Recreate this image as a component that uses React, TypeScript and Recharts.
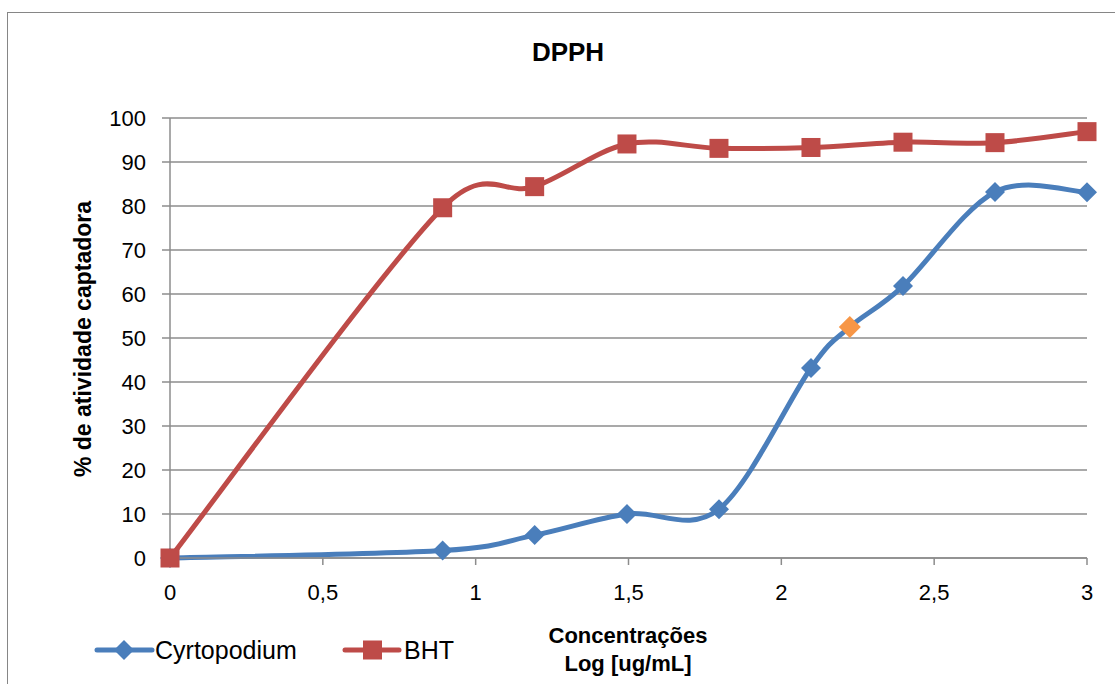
import React from 'react';
import { LineChart, Line, XAxis, YAxis, CartesianGrid } from 'recharts';

// ---- data ----
const logConc = [0, 0.892, 1.193, 1.495, 1.796, 2.097, 2.398, 2.699, 3];
const cyrtopodium = [0, 1.7, 5.2, 10.0, 11.1, 43.2, 61.8, 83.2, 83.1];
const bht = [0, 79.6, 84.4, 94.1, 93.1, 93.3, 94.5, 94.4, 96.9];
const ic50Point = { x: 2.224, y: 52.5 };
const xTicks = [0, 0.5, 1, 1.5, 2, 2.5, 3];
const yTicks = [0, 10, 20, 30, 40, 50, 60, 70, 80, 90, 100];
const seriesNames = ['Cyrtopodium', 'BHT'];
const chartTitle = 'DPPH';
const xTitle = ['Concentrações', 'Log [ug/mL]'];
const yTitle = '% de atividade captadora';

const cyrData = [
  ...logConc.map((x, i) => ({ x, y: cyrtopodium[i], ic50: false })),
  { x: ic50Point.x, y: ic50Point.y, ic50: true },
].sort((a, b) => a.x - b.x);
const bhtData = logConc.map((x, i) => ({ x, y: bht[i] }));

const BLUE = '#4A7EBB';
const RED = '#BE4B48';
const ORANGE = '#F79646';
const GRID = '#8C8C8C';
const FONT = '"Liberation Sans", Arial, sans-serif';

// Excel-like smoothed line (Catmull-Rom through points, with arm length limited)
const smoothCurve: any = (context: any) => {
  let xs: number[] = [];
  let ys: number[] = [];
  const arm = (ax: number, ay: number, segLen: number) => {
    let vx = ax / 6;
    let vy = ay / 6;
    const len = Math.hypot(vx, vy);
    const maxLen = segLen * 0.67;
    if (len > maxLen && len > 0) {
      vx *= maxLen / len;
      vy *= maxLen / len;
    }
    return [vx, vy];
  };
  return {
    areaStart() {},
    areaEnd() {},
    lineStart() {
      xs = [];
      ys = [];
    },
    point(x: number, y: number) {
      xs.push(+x);
      ys.push(+y);
    },
    lineEnd() {
      const n = xs.length;
      if (!n) return;
      context.moveTo(xs[0], ys[0]);
      for (let i = 0; i < n - 1; i++) {
        const i0 = Math.max(i - 1, 0);
        const i3 = Math.min(i + 2, n - 1);
        const seg = Math.hypot(xs[i + 1] - xs[i], ys[i + 1] - ys[i]);
        const a1 = arm(xs[i + 1] - xs[i0], ys[i + 1] - ys[i0], seg);
        const a2 = arm(xs[i3] - xs[i], ys[i3] - ys[i], seg);
        context.bezierCurveTo(
          xs[i] + a1[0],
          ys[i] + a1[1],
          xs[i + 1] - a2[0],
          ys[i + 1] - a2[1],
          xs[i + 1],
          ys[i + 1]
        );
      }
    },
  };
};

const diamondPath = (cx: number, cy: number, r: number) =>
  `M${cx},${cy - r}L${cx + r},${cy}L${cx},${cy + r}L${cx - r},${cy}Z`;

const DiamondDot = (props: any) => {
  const { cx, cy, payload, index } = props;
  if (cx == null || cy == null) return <g key={`d${index}`} />;
  const isIc = payload && payload.ic50;
  return (
    <path
      key={`d${index}`}
      d={diamondPath(cx, cy, isIc ? 11 : 10)}
      fill={isIc ? ORANGE : BLUE}
    />
  );
};

const SquareDot = (props: any) => {
  const { cx, cy, index } = props;
  if (cx == null || cy == null) return <g key={`s${index}`} />;
  return <rect key={`s${index}`} x={cx - 9.5} y={cy - 9.5} width={19} height={19} fill={RED} />;
};

const fmt = (v: number) => String(v).replace('.', ',');

export default function App() {
  return (
    <div style={{ position: 'absolute', left: 0, top: 0, width: 1115, height: 684, overflow: 'hidden', background: '#fff' }}>
      <div
        style={{
          position: 'absolute',
          left: 7,
          top: 12,
          width: 1108,
          height: 672,
          borderLeft: '1px solid #868686',
          borderTop: '1px solid #868686',
          boxSizing: 'border-box',
        }}
      />
      <div style={{ position: 'absolute', left: 0, top: 0 }}>
        <LineChart
          width={1115}
          height={684}
          margin={{ top: 118, right: 28, left: 110, bottom: 86 }}
          style={{ fontFamily: FONT }}
        >
          <CartesianGrid horizontal vertical={false} stroke={GRID} strokeWidth={1.5} />
          <XAxis
            type="number"
            dataKey="x"
            domain={[0, 3]}
            ticks={xTicks}
            tickFormatter={fmt}
            height={40}
            tickSize={7}
            tickMargin={19}
            axisLine={{ stroke: GRID, strokeWidth: 1.5 }}
            tickLine={{ stroke: GRID, strokeWidth: 1.5 }}
            tick={{ fill: '#000', fontSize: 22, fontFamily: FONT }}
            label={{
              content: () => (
                <g>
                  <text x={628} y={635} textAnchor="middle" dominantBaseline="central" fontWeight="bold" fontSize={22} fill="#000" fontFamily={FONT}>
                    {xTitle[0]}
                  </text>
                  <text x={628} y={663} textAnchor="middle" dominantBaseline="central" fontWeight="bold" fontSize={22} fill="#000" fontFamily={FONT}>
                    {xTitle[1]}
                  </text>
                </g>
              ),
            }}
          />
          <YAxis
            type="number"
            domain={[0, 100]}
            ticks={yTicks}
            width={60}
            tickSize={8}
            tickMargin={16}
            axisLine={{ stroke: GRID, strokeWidth: 1.5 }}
            tickLine={{ stroke: GRID, strokeWidth: 1.5 }}
            tick={{ fill: '#000', fontSize: 22, fontFamily: FONT }}
            label={{
              content: () => (
                <text
                  x={83}
                  y={339}
                  transform="rotate(-90 83 339)"
                  textAnchor="middle"
                  dominantBaseline="central"
                  fontWeight="bold"
                  fontSize={23}
                  fill="#000"
                  fontFamily={FONT}
                >
                  {yTitle}
                </text>
              ),
            }}
          />
          <Line
            data={cyrData}
            dataKey="y"
            name={seriesNames[0]}
            type={smoothCurve}
            stroke={BLUE}
            strokeWidth={5}
            dot={DiamondDot}
            activeDot={false}
            isAnimationActive={false}
          />
          <Line
            data={bhtData}
            dataKey="y"
            name={seriesNames[1]}
            type={smoothCurve}
            stroke={RED}
            strokeWidth={5}
            dot={SquareDot}
            activeDot={false}
            isAnimationActive={false}
          />
        </LineChart>
      </div>
      <svg width={1115} height={684} style={{ position: 'absolute', left: 0, top: 0, pointerEvents: 'none' }}>
        <text x={568} y={52} textAnchor="middle" dominantBaseline="central" fontWeight="bold" fontSize={26} fill="#000" fontFamily={FONT}>
          {chartTitle}
        </text>
        <line x1={97} y1={650} x2={152} y2={650} stroke={BLUE} strokeWidth={5} strokeLinecap="round" />
        <path d={diamondPath(124, 650, 10)} fill={BLUE} />
        <text x={155} y={650} dominantBaseline="central" fontSize={25} fill="#000" fontFamily={FONT}>
          {seriesNames[0]}
        </text>
        <line x1={345} y1={650} x2={399} y2={650} stroke={RED} strokeWidth={5} strokeLinecap="round" />
        <rect x={363} y={640.5} width={19} height={19} fill={RED} />
        <text x={404} y={650} dominantBaseline="central" fontSize={25} fill="#000" fontFamily={FONT}>
          {seriesNames[1]}
        </text>
      </svg>
    </div>
  );
}
